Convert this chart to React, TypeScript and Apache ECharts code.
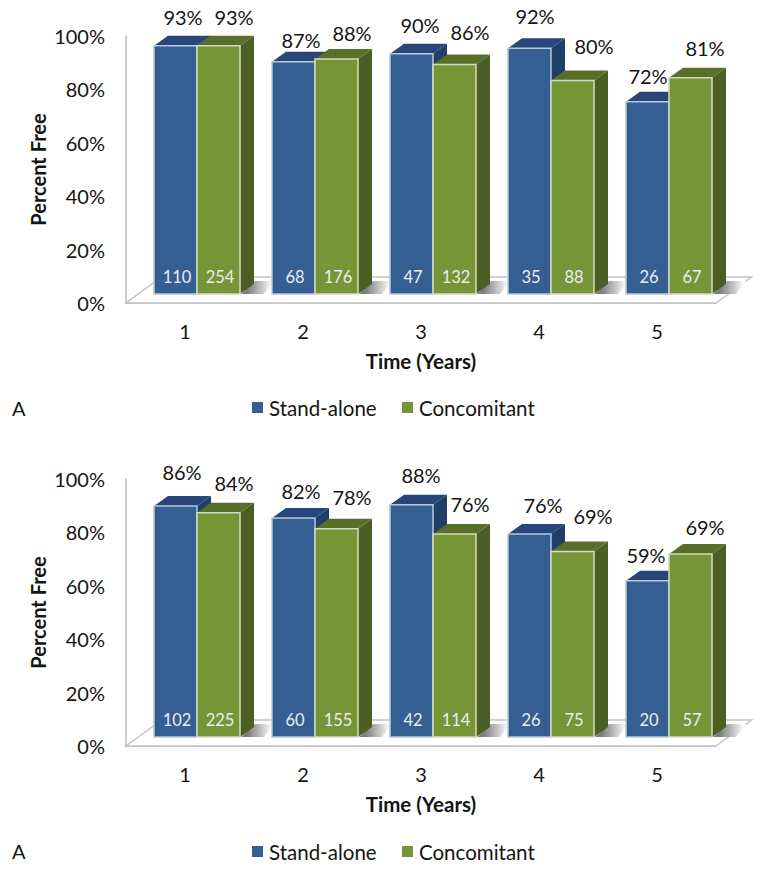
import React, { useEffect, useRef } from "react";
import * as echarts from "echarts";

const categories = ["1", "2", "3", "4", "5"];
const standAloneTop = [93, 87, 90, 92, 72];
const concomitantTop = [93, 88, 86, 80, 81];
const standAloneTopN = [110, 68, 47, 35, 26];
const concomitantTopN = [254, 176, 132, 88, 67];
// Printed percentages of the lower panel
const standAloneBottom = [86, 82, 88, 76, 59];
const concomitantBottom = [84, 78, 76, 69, 69];
// Bar heights (they differ slightly from the print)
const standAloneBottomH = [86.5, 82, 87, 76, 58.5];
const concomitantBottomH = [84, 78, 76, 69.5, 68.5];
const standAloneBottomN = [102, 60, 42, 26, 20];
const concomitantBottomN = [225, 155, 114, 75, 57];
const yTicks = { min: 0, max: 100, interval: 20 };
const seriesNames = ["Stand-alone", "Concomitant"];

// Hand-placed label nudges relative to each bar's top centre (layout, not data)
const nudgeTopA = [[7.5, -29], [7.5, -22], [8.5, -29], [5.5, -32], [0.5, -26]];
const nudgeTopB = [[15.5, -29], [15.5, -26], [15.5, -32], [21.5, -34], [14.5, -30]];
const nudgeBotA = [[6.5, -34], [7.5, -27], [9.5, -30], [13.5, -29], [-1.5, -26]];
const nudgeBotB = [[15.5, -30], [15.5, -32], [15.5, -30], [20.5, -35], [14.5, -27]];

const FONT = "Lato, 'Open Sans', sans-serif";
const INK = "#141414";
const BLUE = { front: "#355f92", top: "#27477a", side: "#1f3f68", edge: "#b9c7da" };
const GREEN = { front: "#769537", top: "#586f2a", side: "#4b5f25", edge: "#d3dcc0" };
const FRONT = [12, -9];
const DEPTH = [14, -10];
const BAR_W = 43;

function poly(points: number[][], fill: any, stroke?: string, lw = 0) {
  return {
    type: "polygon",
    shape: { points },
    style: { fill, stroke: stroke || "none", lineWidth: lw },
    silent: true,
  };
}

function floorSeries(gridIndex: number) {
  return {
    type: "custom",
    name: "floor",
    xAxisIndex: gridIndex,
    yAxisIndex: gridIndex,
    z: 1,
    silent: true,
    data: [[0, 0]],
    renderItem: (params: any) => {
      const c = params.coordSys;
      const l = c.x;
      const r = c.x + c.width;
      const b = c.y + c.height;
      const dx = 35.5;
      const dy = -26;
      return {
        type: "group",
        children: [
          poly([[l, b], [r, b], [r + dx, b + dy], [l + dx, b + dy]], "#ffffff", "#c4c4c4", 1.5),
        ],
      };
    },
  };
}

function shadowSeries(gridIndex: number) {
  return {
    type: "custom",
    name: "shadow",
    xAxisIndex: gridIndex,
    yAxisIndex: gridIndex,
    z: 2,
    silent: true,
    data: categories.map((_, i) => [i, 0]),
    renderItem: (_p: any, api: any) => {
      const p = api.coord([api.value(0), 0]);
      const x = p[0] + FRONT[0] + BAR_W;
      const y = p[1] + FRONT[1];
      return poly(
        [[x + 1, y], [x + 15, y - 13], [x + 34, y - 13], [x + 24, y]],
        new echarts.graphic.LinearGradient(0, 0.5, 1, 0.5, [
          { offset: 0.2, color: "#7d7d7d" },
          { offset: 0.95, color: "#ffffff" },
        ])
      );
    },
  };
}

function barSeries(
  gridIndex: number,
  seriesIndex: number,
  name: string,
  heights: number[],
  printed: number[],
  counts: number[],
  nudges: number[][],
  pal: typeof BLUE
) {
  return {
    type: "custom",
    name,
    xAxisIndex: gridIndex,
    yAxisIndex: gridIndex,
    z: 3 + seriesIndex,
    silent: true,
    itemStyle: { color: pal.front },
    data: heights.map((v, i) => [i, v]),
    renderItem: (_p: any, api: any) => {
      const i = api.value(0);
      const top = api.coord([i, api.value(1)]);
      const bot = api.coord([i, 0]);
      const x0 = top[0] + FRONT[0] + (seriesIndex === 0 ? -BAR_W : 0);
      const x1 = x0 + BAR_W;
      const yt = top[1] + FRONT[1];
      const yb = bot[1] + FRONT[1];
      const [dx, dy] = DEPTH;
      const cx = (x0 + x1) / 2;
      return {
        type: "group",
        children: [
          poly([[x1, yt], [x1 + dx, yt + dy], [x1 + dx, yb + dy], [x1, yb]], pal.side),
          poly([[x0, yt], [x0 + dx, yt + dy], [x1 + dx, yt + dy], [x1, yt]], pal.top),
          poly([[x0, yt], [x1, yt], [x1, yb], [x0, yb]], pal.front, pal.edge, 1.5),
          {
            type: "text",
            silent: true,
            style: {
              x: cx + 1.5,
              y: yb - 17,
              text: String(counts[i]),
              fill: "#e8eef2",
              font: `16.5px ${FONT}`,
              align: "center",
              verticalAlign: "middle",
            },
          },
          {
            type: "text",
            silent: true,
            style: {
              x: cx + nudges[i][0],
              y: yt + nudges[i][1],
              text: `${printed[i]}%`,
              fill: INK,
              font: `20px ${FONT}`,
              align: "center",
              verticalAlign: "middle",
            },
          },
        ],
      };
    },
  };
}

function legendItem(name: string, left: number, top: number) {
  return {
    data: [name],
    left,
    top,
    icon: "rect",
    itemWidth: 11,
    itemHeight: 11,
    itemGap: 0,
    padding: 0,
    selectedMode: false,
    textStyle: { fontFamily: FONT, fontSize: 20.5, color: INK, padding: [0, 0, 0, 1] },
  };
}

function axes(gridIndex: number) {
  const lineStyle = { color: "#bdbdbd", width: 1.5 };
  return {
    x: {
      type: "category",
      gridIndex,
      data: categories,
      axisLine: { show: true, lineStyle: { color: "#c4c4c4", width: 2 } },
      axisTick: { show: false },
      axisLabel: { margin: 18, fontFamily: FONT, fontSize: 20, color: INK },
      name: "Time (Years)",
      nameLocation: "middle",
      nameGap: 47,
      nameTextStyle: { fontFamily: FONT, fontSize: 20.5, fontWeight: "bold", color: INK },
    },
    y: {
      type: "value",
      gridIndex,
      ...yTicks,
      axisLine: { show: true, lineStyle },
      axisTick: { show: false },
      splitLine: { show: false },
      axisLabel: {
        margin: 21,
        formatter: "{value}%",
        fontFamily: FONT,
        fontSize: 20,
        color: INK,
      },
      name: "Percent Free",
      nameLocation: "middle",
      nameRotate: 90,
      nameGap: 78,
      nameMoveOverlap: false,
      nameTextStyle: { fontFamily: FONT, fontSize: 20, fontWeight: "bold", color: INK },
    },
  };
}

export default function App() {
  const ref = useRef<HTMLDivElement>(null);
  useEffect(() => {
    if (!ref.current) return;
    const chart = echarts.init(ref.current, null, { renderer: "svg" });
    const a0 = axes(0);
    const a1 = axes(1);
    const aStyle = { text: "A", font: `20px ${FONT}`, fill: INK, verticalAlign: "middle" };
    chart.setOption({
      animation: false,
      backgroundColor: "#ffffff",
      grid: [
        { left: 126, top: 36, width: 590, height: 267 },
        { left: 126, top: 479, width: 590, height: 267 },
      ],
      xAxis: [a0.x, a1.x],
      yAxis: [a0.y, a1.y],
      legend: [
        legendItem(seriesNames[0], 252, 397),
        legendItem(seriesNames[1], 402, 397),
        legendItem(seriesNames[0], 252, 841),
        legendItem(seriesNames[1], 402, 841),
      ],
      graphic: [
        { type: "text", x: 12, y: 408, style: aStyle },
        { type: "text", x: 12, y: 851, style: aStyle },
      ],
      series: [
        floorSeries(0),
        shadowSeries(0),
        barSeries(0, 0, seriesNames[0], standAloneTop, standAloneTop, standAloneTopN, nudgeTopA, BLUE),
        barSeries(0, 1, seriesNames[1], concomitantTop, concomitantTop, concomitantTopN, nudgeTopB, GREEN),
        floorSeries(1),
        shadowSeries(1),
        barSeries(1, 0, seriesNames[0], standAloneBottomH, standAloneBottom, standAloneBottomN, nudgeBotA, BLUE),
        barSeries(1, 1, seriesNames[1], concomitantBottomH, concomitantBottom, concomitantBottomN, nudgeBotB, GREEN),
      ],
    });
    return () => chart.dispose();
  }, []);
  return (
    <div
      ref={ref}
      style={{ position: "absolute", left: 0, top: 0, width: 762, height: 870 }}
    />
  );
}
